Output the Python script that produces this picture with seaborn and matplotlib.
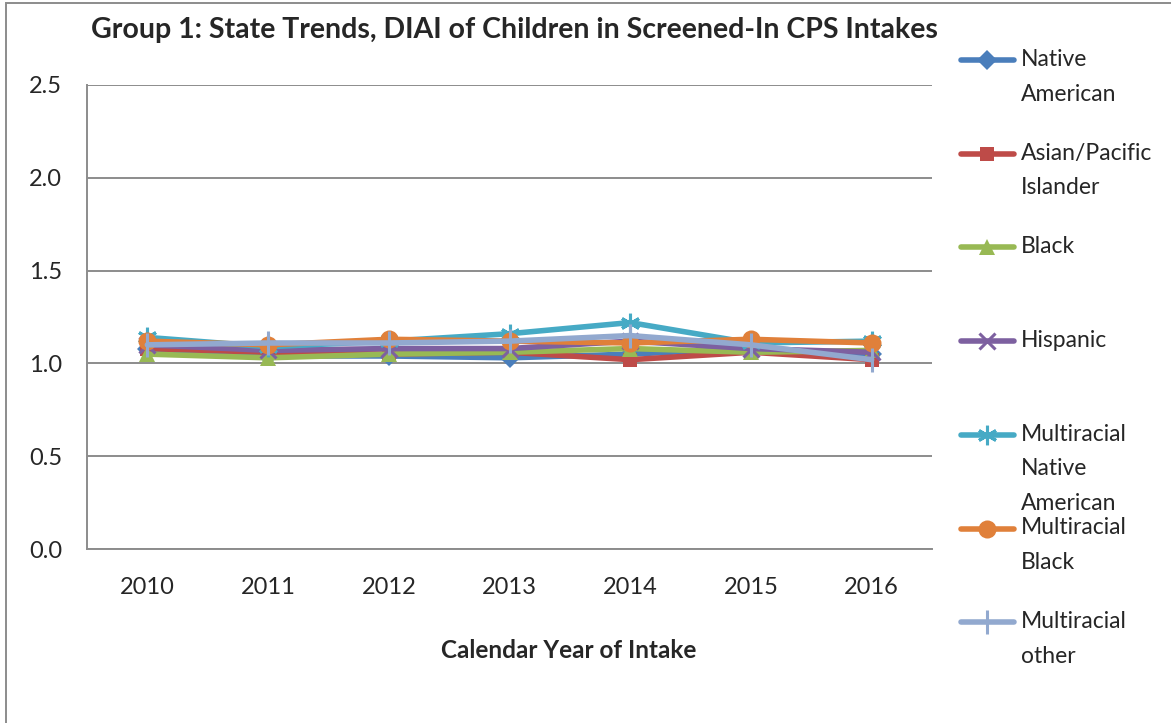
import matplotlib
matplotlib.use("Agg")
import matplotlib.pyplot as plt
from matplotlib.lines import Line2D
from matplotlib.patches import Rectangle
import seaborn as sns
import pandas as pd

years = ["2010", "2011", "2012", "2013", "2014", "2015", "2016"]
native_american = [1.08, 1.04, 1.04, 1.03, 1.05, 1.08, 1.05]
asian_pacific = [1.08, 1.06, 1.05, 1.06, 1.02, 1.06, 1.02]
black = [1.05, 1.03, 1.05, 1.06, 1.08, 1.06, 1.07]
hispanic = [1.10, 1.07, 1.08, 1.08, 1.12, 1.08, 1.06]
multi_native = [1.14, 1.09, 1.12, 1.16, 1.22, 1.11, 1.12]
multi_black = [1.12, 1.10, 1.13, 1.12, 1.11, 1.13, 1.11]
multi_other = [1.10, 1.11, 1.11, 1.12, 1.15, 1.10, 1.02]

series_names = ["Native American", "Asian/Pacific Islander", "Black", "Hispanic",
                "Multiracial Native American", "Multiracial Black", "Multiracial other"]
legend_labels = ["Native\nAmerican", "Asian/Pacific\nIslander", "Black", "Hispanic",
                 "Multiracial\nNative\nAmerican", "Multiracial\nBlack", "Multiracial\nother"]
series_values = [native_american, asian_pacific, black, hispanic,
                 multi_native, multi_black, multi_other]
colors = ["#4A7EBB", "#BE4B48", "#98B954", "#7D60A0", "#46AAC5", "#E0803A", "#92A9CF"]
markers = ["D", "s", "^", "x", (6, 2, 0), "o", "|"]
msizes = [10, 10, 12, 12, 14, 13, 17]


def edge_width(mk):
    return 2.2 if mk in ("x", "|") or isinstance(mk, tuple) else 0


rows = []
for name, vals in zip(series_names, series_values):
    for i, (yr, v) in enumerate(zip(years, vals)):
        rows.append({"pos": i, "year": yr, "series": name, "value": v})
df = pd.DataFrame(rows)

sns.set_theme(style="white")
plt.rcParams["font.family"] = ["Lato", "DejaVu Sans"]

fig = plt.figure(figsize=(11.71, 7.23), dpi=100)
ax = fig.add_axes([87 / 1171, 1 - 549 / 723, 845 / 1171, 464 / 723])

palette = dict(zip(series_names, colors))
for name, mk, ms in zip(series_names, markers, msizes):
    sub = df[df["series"] == name]
    sns.lineplot(data=sub, x="pos", y="value", color=palette[name], ax=ax,
                 linewidth=4.0, marker=mk, markersize=ms, markeredgewidth=edge_width(mk),
                 markeredgecolor=palette[name], legend=False, solid_capstyle="round")

grid_c = "#8C8C8C"
ax.set_xlim(-0.5, 6.5)
ax.set_ylim(0, 2.5)
ax.set_yticks([0, 0.5, 1.0, 1.5, 2.0, 2.5])
ax.set_yticklabels(["0.0", "0.5", "1.0", "1.5", "2.0", "2.5"], fontsize=17)
ax.set_xticks(range(len(years)))
ax.set_xticklabels(years, fontsize=17)
ax.set_xticks([i - 0.5 for i in range(len(years) + 1)], minor=True)
ax.tick_params(axis="x", which="major", length=0, pad=20)
ax.tick_params(axis="x", which="minor", length=8, width=1.3, color=grid_c, direction="out")
ax.tick_params(axis="y", which="major", length=8, width=1.3, color=grid_c, direction="out", pad=10)
ax.yaxis.grid(True, color=grid_c, linewidth=1.4)
ax.set_axisbelow(True)
for side in ["top", "right"]:
    ax.spines[side].set_visible(False)
for side in ["left", "bottom"]:
    ax.spines[side].set_color(grid_c)
    ax.spines[side].set_linewidth(1.4)
ax.set_xlabel("")
ax.set_ylabel("")

fig.text(514 / 1171, 1 - 30 / 723, "Group 1: State Trends, DIAI of Children in Screened-In CPS Intakes",
         ha="center", va="center", fontsize=20.5, fontweight="bold")
fig.text(569 / 1171, 1 - 651 / 723, "Calendar Year of Intake",
         ha="center", va="center", fontsize=17.5, fontweight="bold")

# legend, one entry per series, stacked at a fixed step
y0 = 60
step = 93.7
for k, (lab, c, mk, ms) in enumerate(zip(legend_labels, colors, markers, msizes)):
    yy = 1 - (y0 + k * step) / 723
    fig.add_artist(Line2D([961 / 1171, 1014 / 1171], [yy, yy], color=c, linewidth=4.0,
                          solid_capstyle="round", transform=fig.transFigure))
    fig.add_artist(Line2D([987 / 1171], [yy], marker=mk, markersize=ms, color=c,
                          markeredgecolor=c, markeredgewidth=edge_width(mk),
                          linestyle="none", transform=fig.transFigure))
    fig.text(1021 / 1171, yy + 11 / 723, lab, ha="left", va="top", fontsize=16.5,
             linespacing=1.8)

fig.add_artist(Rectangle((6 / 1171, -0.01), 1.02, 1 - 3 / 723 + 0.01, fill=False,
                         edgecolor="#8C8C8C", linewidth=1.4, transform=fig.transFigure,
                         clip_on=False))

fig.savefig("out.png", dpi=100)
